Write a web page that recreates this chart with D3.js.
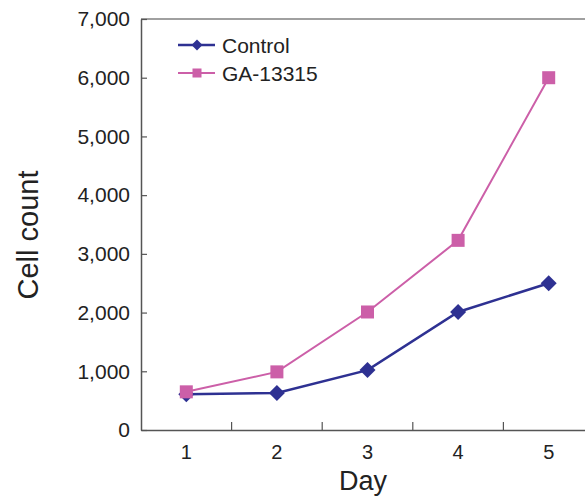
<!DOCTYPE html>
<html>
<head>
<meta charset="utf-8">
<script src="https://cdn.jsdelivr.net/npm/d3@7"></script>
<style>
  body { margin: 0; background: #fff; }
  svg { font-family: "Liberation Sans", Arial, sans-serif; }
</style>
</head>
<body>
<svg id="chart" width="585" height="497"></svg>
<script>
// donnees
var days = ["1", "2", "3", "4", "5"];
var control = [610, 630, 1020, 2010, 2500];
var ga13315 = [650, 990, 2010, 3230, 6000];
var yTicks = [0, 1000, 2000, 3000, 4000, 5000, 6000, 7000];

var svg = d3.select("#chart");

var plotLeft = 141, plotRight = 594, plotTop = 19, plotBottom = 430;

var x = d3.scaleBand().domain(days).range([plotLeft, plotRight]);
var y = d3.scaleLinear().domain([0, 7000]).range([plotBottom, plotTop]);

// cadre : haut + axes
svg.append("line")
  .attr("x1", plotLeft).attr("x2", 585)
  .attr("y1", plotTop).attr("y2", plotTop)
  .attr("stroke", "#808080").attr("stroke-width", 1.5);

// axe Y (ticks vers l'interieur)
var yAxis = svg.append("g")
  .attr("transform", "translate(" + plotLeft + ",0)")
  .call(d3.axisLeft(y).tickValues(yTicks).tickSizeInner(-6).tickSizeOuter(0).tickPadding(11).tickFormat(d3.format(",")));
yAxis.select(".domain").attr("stroke", "#555").attr("stroke-width", 1.5);
yAxis.selectAll(".tick line").attr("stroke", "#555").attr("stroke-width", 1.2);
yAxis.selectAll("text").attr("font-size", 21).attr("fill", "#222");

// axe X : ticks entre les jours
var xAxis = svg.append("g")
  .attr("transform", "translate(0," + plotBottom + ")")
  .call(d3.axisBottom(x).tickSize(0).tickPadding(15));
xAxis.select(".domain").attr("stroke", "#555").attr("stroke-width", 1.5);
xAxis.selectAll("text").attr("font-size", 20).attr("fill", "#222");
days.slice(1).forEach(function(d) {
  xAxis.append("line")
    .attr("x1", x(d)).attr("x2", x(d))
    .attr("y1", 0).attr("y2", -8)
    .attr("stroke", "#555").attr("stroke-width", 1.2);
});

// titres
svg.append("text")
  .attr("x", 363).attr("y", 490)
  .attr("text-anchor", "middle").attr("font-size", 27).attr("fill", "#222")
  .text("Day");
svg.append("text")
  .attr("transform", "translate(38,235) rotate(-90)")
  .attr("text-anchor", "middle").attr("font-size", 29).attr("fill", "#222")
  .text("Cell count");

var cx = function(d, i) { return x(days[i]) + x.bandwidth() / 2; };

var series = [
  { name: "Control", values: control, color: "#2e3192", width: 2.5, marker: "diamond" },
  { name: "GA-13315", values: ga13315, color: "#cc5fa8", width: 2, marker: "square" }
];

function drawMarker(g, type, px, py, color, size) {
  if (type === "diamond") {
    var r = size / 2;
    g.append("path")
      .attr("d", "M" + px + "," + (py - r) + "L" + (px + r) + "," + py + "L" + px + "," + (py + r) + "L" + (px - r) + "," + py + "Z")
      .attr("fill", color);
  } else {
    g.append("rect")
      .attr("x", px - size / 2).attr("y", py - size / 2)
      .attr("width", size).attr("height", size)
      .attr("fill", color);
  }
}

// Control en premier, GA par dessus
series.forEach(function(s) {
  var g = svg.append("g");
  g.append("path")
    .datum(s.values)
    .attr("fill", "none")
    .attr("stroke", s.color)
    .attr("stroke-width", s.width)
    .attr("d", d3.line().x(cx).y(function(d) { return y(d); }));
  s.values.forEach(function(v, i) {
    drawMarker(g, s.marker, cx(v, i), y(v), s.color, s.marker === "diamond" ? 16 : 13);
  });
});

// legende
series.forEach(function(s, i) {
  var ly = 45 + i * 28;
  var g = svg.append("g");
  g.append("line")
    .attr("x1", 178).attr("x2", 215)
    .attr("y1", ly).attr("y2", ly)
    .attr("stroke", s.color).attr("stroke-width", s.width);
  drawMarker(g, s.marker, 197, ly, s.color, s.marker === "diamond" ? 11 : 9);
  g.append("text")
    .attr("x", 222).attr("y", ly + 7.5)
    .attr("font-size", 21).attr("fill", "#222")
    .text(s.name);
});
</script>
</body>
</html>
